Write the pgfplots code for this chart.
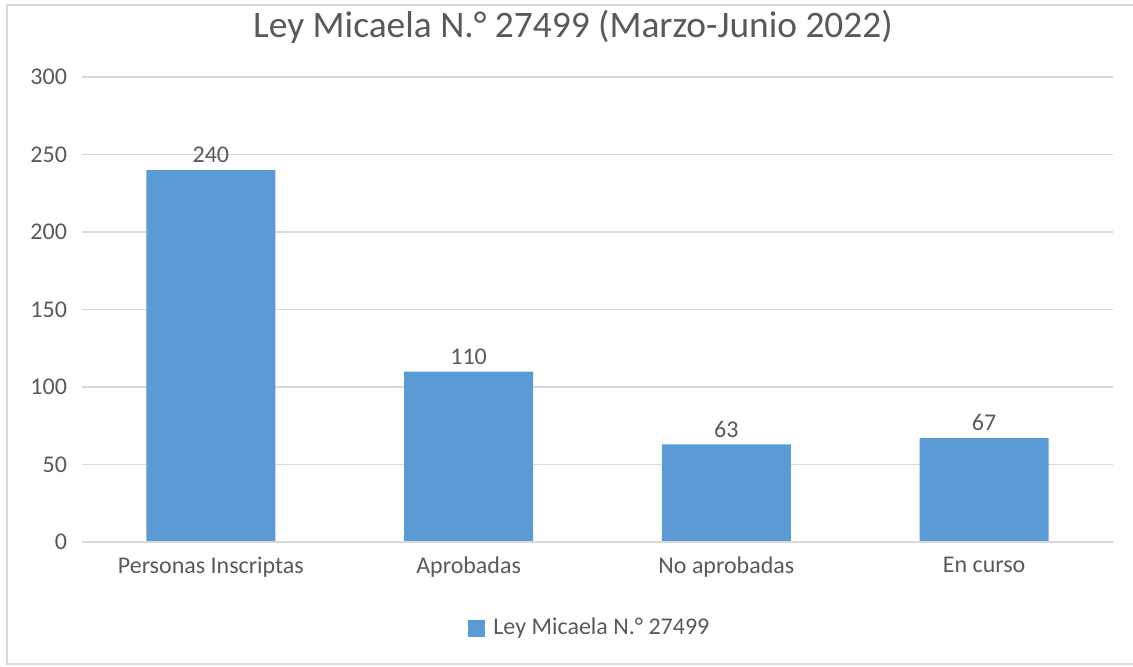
\documentclass[border=0pt]{standalone}
\usepackage{pgfplots}
\pgfplotsset{compat=1.18}
\usepackage{fontspec}
\setmainfont{Carlito}
\definecolor{barblue}{HTML}{5B9BD5}
\definecolor{txtgray}{HTML}{595959}
\definecolor{gridgray}{HTML}{D9D9D9}
\begin{document}
\begin{tikzpicture}[x=1pt,y=1pt]
\useasboundingbox (-41,-62) rectangle (525.5,271);
\draw[gridgray, line width=0.8pt] (-37.5,-61) rectangle (530,268.5);
\begin{axis}[
  at={(0,0)}, anchor=south west,
  scale only axis, width=515.5pt, height=232.5pt,
  ymin=0, ymax=300, ytick={0,50,...,300},
  xmin=-0.5, xmax=3.5,
  xtick={0,1,2,3},
  xticklabels={Personas Inscriptas,Aprobadas,No aprobadas,En curso},
  ymajorgrids, grid style={gridgray, line width=0.9pt},
  axis line style={draw=none},
  axis x line*=bottom,
  major tick length=0pt,
  tick label style={font=\fontsize{12}{14}\selectfont, text=txtgray},
  yticklabel style={xshift=-4pt},
  xticklabel style={yshift=-4pt},
  /pgf/number format/assume math mode=true,
  ybar, bar width=0.5, bar shift=0pt,
  nodes near coords,
  nodes near coords style={font=\fontsize{12}{14}\selectfont, text=txtgray},
  legend style={at={(0.4955,-0.185)}, anchor=center, draw=none, fill=none,
    font=\fontsize{12}{14}\selectfont, text=txtgray,
    nodes={inner xsep=4pt}},
  legend image code/.code={\fill[barblue] (0pt,-4.25pt) rectangle (8.5pt,4.25pt);},
]
\addplot[fill=barblue, draw=none] coordinates {(0,240) (1,110) (2,63) (3,67)};
\addlegendentry{Ley Micaela N.° 27499}
\draw[gridgray, line width=0.9pt] (axis cs:-0.5,0) -- (axis cs:3.5,0);
\end{axis}
\node[anchor=base, text=txtgray, font=\fontsize{18.7}{22}\selectfont, inner sep=0pt] at (245.5,252.5) {Ley Micaela N.° 27499 (Marzo-Junio 2022)};
\end{tikzpicture}
\end{document}
